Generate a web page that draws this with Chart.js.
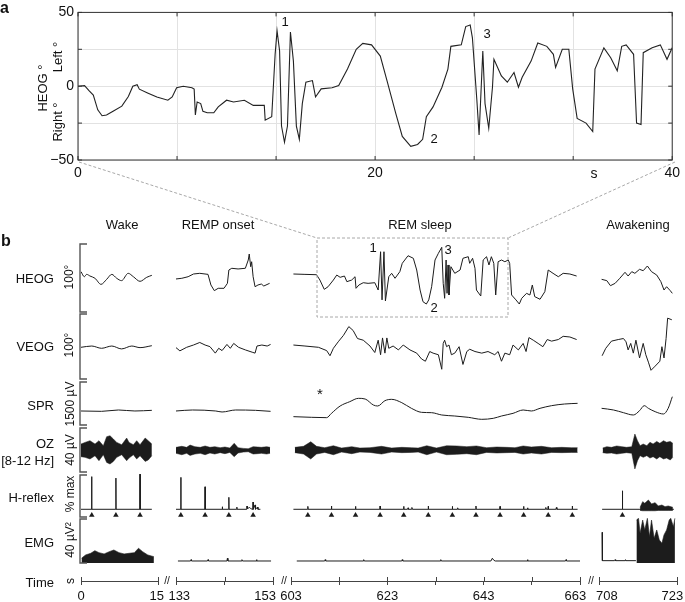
<!DOCTYPE html>
<html>
<head>
<meta charset="utf-8">
<script src="https://cdn.jsdelivr.net/npm/chart.js@4.4.0/dist/chart.umd.min.js"></script>
<style>
  html, body { margin: 0; padding: 0; background: #fff; }
  #page { position: relative; width: 685px; height: 602px; overflow: hidden;
          font-family: "Liberation Sans", Arial, Helvetica, sans-serif; color: #111; }
  #page canvas { position: absolute; }
  #page svg { position: absolute; left: 0; top: 0; }
  .lbl { position: absolute; white-space: nowrap; font-size: 13px; line-height: 1; }
</style>
</head>
<body>
<div id="page"></div>
<script>
// ---------- panel a : zoomed HEOG (40 s window) ----------
const heogA = [
  [0,0],[0.44,0.4],[0.74,-3],[1.03,-6],[1.33,-16],[1.62,-20],[1.92,-19.5],[2.36,-17],[2.95,-13.5],
  [3.39,-7],[3.69,0],[3.98,1],[4.13,-2],[4.72,-4.7],[5.31,-7.3],[6.05,-9.5],[6.34,-7.3],[6.64,-1],
  [7.08,0],[7.67,-1],[7.82,-2],[7.9,-19.5],[8.02,-10.7],[8.26,-11.8],[8.41,-17],[8.7,-18],[9.14,-18],
  [9.44,-14],[10.0,-9.5],[10.47,-10.7],[11.2,-9.5],[11.8,-13],[12.54,-13],[12.6,-23],[13.04,-20.7],
  [13.27,21.6],[13.4,37.5],[13.57,24],[13.7,-27],[13.9,-38],[14.1,-27],[14.3,36.7],[14.5,17],[14.7,-27],
  [14.9,-36],[15.1,-11.8],[15.34,2.7],[15.78,3.8],[15.99,-7.3],[16.37,-1.8],[17.1,-1],[17.55,0.4],
  [18.14,11.6],[18.73,25],[19.17,29],[19.76,28],[20.35,20.4],[20.8,3.8],[21.39,-18.4],[21.83,-34],
  [22.4,-40.7],[22.86,-39.5],[23.2,-36],[23.45,-20.7],[23.9,-14],[24.5,-0.7],[24.9,11.6],[25.1,27],
  [25.8,28],[26.1,40.4],[26.4,41.5],[26.55,32.7],[26.85,-9.5],[27.0,-33],[27.25,23.8],[27.4,-11.8],
  [27.65,-28.5],[27.9,-0.7],[28.0,18.2],[28.5,7],[28.9,2.7],[29.35,9.3],[29.65,-0.7],[29.9,6],
  [30.5,17],[30.95,29.3],[31.56,27],[32.0,21.6],[32.15,12.7],[32.6,25],[33.04,25],[33.3,-1.8],
  [33.6,-21.8],[34.2,-25],[34.65,-30.7],[34.8,11.6],[35.4,26],[35.86,19.3],[36.3,10.4],[36.6,27],
  [36.9,28],[37.4,21.6],[37.6,-25],[37.9,-26],[38.05,22.7],[38.65,26],[39.2,28],[39.65,18.2],[40,26]
];
const xTicksA = [0, 6.667, 13.333, 20, 26.667, 33.333, 40];
const xTickLabelsA = ['0', '', '', '20', '', '', '40'];
const yTicksA = [-50, -25, 0, 25, 50];
const yTickLabelsA = ['\u221250', '', '0', '', '50'];

// ---------- panel b : four recording segments ----------
const segMin = [0, 133, 603, 708];
const segMax = [15, 153, 663, 723];
const segTicks = [[0, 15], [133, 143, 153], [603, 613, 623, 633, 643, 653, 663], [708, 723]];
// thin/en/em spaces nudge the crowded end labels off each other, as in the original
const segTickLabels = [
  ['0', '15\u2009'],
  ['\u2002133', '', '153\u2003\u2009'],
  ['603', '', '623', '', '643', '', '663\u2002\u2009'],
  ['\u2003\u2009708', '723\u2002\u2009']
];

// HEOG (deg)
const heogWake = [[0,9.9],[0.65,2.6],[1.1,6],[1.75,3.6],[2.73,0.3],[3.9,-8.5],[5.0,-1.2],[6.0,6],[6.96,0.3],
  [7.9,-3.1],[9.2,7.5],[10.2,2.6],[11.5,-4.1],[12.8,1.7],[13.8,4.6]];
const heogRemp = [[133,-0.7],[134.2,0.3],[135.5,2.6],[136.6,6.5],[137.9,7.5],[139.6,6],[140.2,-9.4],[140.9,-17.6],
  [141.7,-14.2],[142.9,-14.2],[143.6,-7],[143.9,12.3],[144.5,14.8],[145.8,13.8],[147.3,14.8],[147.9,26.8],
  [148.1,35.5],[148.4,17.1],[148.6,24.3],[148.9,2.6],[149.3,-11.9],[149.9,-9.4],[150.6,-8],[151.1,-10.9],[152.3,-7]];
const heogRem = [[603.5,6.5],[605.9,6],[608.3,5.5],[609,-2.2],[609.9,-15.7],[610.7,-11.9],[611.8,-2.2],[612.5,5],
  [613.2,1.7],[614.1,3.6],[614.6,-4.6],[615.6,-2.2],[616.3,2.6],[616.5,-14.2],[617.1,-9.4],[618,-6.1],[619,-7],
  [620.4,-6.1],[621.1,-16.7],[621.6,38.8],[621.9,-31],[622.3,38.8],[622.6,-32.6],[623.3,2.6],[623.9,7.5],
  [624.6,0.3],[625.6,9.9],[626.1,22],[627.3,33],[628.4,29.3],[629.1,12.3],[629.8,-16.7],[630.4,-33.6],
  [631.1,-37],[631.6,-31],[632.2,-11.9],[632.9,26.8],[633.6,36.5],[634.3,45.2],[634.6,-7],[634.9,-28.7],
  [635.2,26.8],[635.4,-21.5],[635.6,19.6],[635.8,-23.9],[636.2,17.1],[637,7.5],[638.1,12.3],[638.7,29.3],
  [639.8,31.6],[640.1,22],[640.7,29.3],[641.2,14.8],[641.5,-16.7],[642.4,-25.4],[642.9,26.8],[643.6,31.6],
  [644.1,19.6],[644.6,31.6],[645.1,22],[645.5,-23.9],[646,24.3],[646.7,26.8],[647.4,24.3],[648.1,26.8],
  [648.4,22],[648.8,-23.9],[649.7,-31],[650.4,-37],[650.9,-28.7],[651.9,-21.5],[652.6,-23.9],[653.1,-9.4],
  [653.6,-26.3],[654.7,-30.1],[655.7,-19.1],[656.4,12.3],[657.4,7.5],[658.5,2.6],[659.5,7.5],[660.9,6.5],[662.3,3.6]];
const heogAwake = [[708.5,-1.2],[709.5,-3.1],[710.2,-10.4],[711.1,-7],[712,0.3],[713,9],[713.6,3.6],[714.3,9.9],
  [714.9,7.5],[715.8,13.3],[716.5,11.3],[717.3,18.1],[718.1,9.9],[719.1,5],[719.9,-4.6],[720.5,-16.7],
  [721,-11.9],[721.7,-17.6],[722.1,-21.5]];

// VEOG (deg)
const veogWake = [[0,-1.2],[2.1,0.7],[4,-2.7],[6,0.7],[7.9,-3.6],[9.9,0.7],[11.5,-1.7],[13.8,1.2]];
const veogRemp = [[133,-1.7],[133.8,-6.5],[135.2,-1.2],[136.6,2.2],[137.9,6],[139,2.2],[140,-0.2],[141.1,-9.9],
  [141.8,-2.7],[142.5,-6.1],[143.5,3.1],[144.2,-2.7],[144.9,4.6],[145.9,-1.2],[147.3,-5.1],[148.7,-8.5],
  [149.3,-9.9],[149.7,0.7],[150.7,2.2],[151.8,0.7],[152.5,3.1]];
const veogRem = [[603.5,2.2],[605.9,0.7],[608.7,-1.2],[610.4,-6.1],[611.1,-13.8],[611.8,-2.7],[612.8,7],
  [613.9,16.7],[615,29.7],[615.9,23.9],[616.8,11.9],[618,9.4],[619.4,0.7],[620.4,-9],[621.1,9.4],[621.6,-12.3],
  [622,12.8],[622.5,-9.9],[622.9,12.8],[623.3,-2.7],[624.2,0.7],[625.3,-5.1],[626.3,2.2],[627.7,-5.1],
  [629.1,-9.9],[630.1,-18.6],[630.9,-22],[631.8,-7.5],[632.5,-9.9],[633.6,-12.3],[634.3,-34],[634.6,4.6],
  [634.9,9.4],[635.3,-0.3],[635.8,2.2],[636.3,-12.3],[637,-9.9],[637.9,-0.3],[638.7,-26.8],[639.5,-7.5],
  [640.1,-4.1],[641.2,-7.5],[642.6,-9.9],[643.9,-7.5],[645.3,-12.3],[646,-7.5],[646.7,-22],[647.4,-9.9],
  [648.4,-12.3],[649.1,2.2],[650.2,-5.1],[651.2,4.6],[651.8,-7.5],[652.4,13.3],[653.3,9.4],[654.3,4.6],
  [655.3,-0.3],[656.2,10.4],[657.1,8],[658.5,10.4],[659.5,15.2],[660.9,14.2],[662.3,10.4]];
const veogAwake = [[708.6,-13.8],[709.3,-2.7],[710.4,8],[711.7,10.4],[712.7,11.9],[713.2,7],[713.6,-5.1],
  [714.1,4.6],[714.6,-9.9],[715.1,9.4],[715.8,-17.1],[716.5,4.6],[717,-12.3],[717.5,-23.4],[718,-35.5],
  [718.8,-29.3],[719.7,-22],[720.1,-0.3],[720.5,-17.1],[720.9,11.9],[721.2,42.3],[722,39.9]];

// SPR (uV)
const sprWake = [[0,511],[4,500],[7.3,543],[10.5,511],[13.8,532]];
const sprRemp = [[133,511],[136.4,543],[141.2,511],[142.5,479],[145.3,543],[149.4,532],[152.5,500]];
const sprRem = [[603.5,330],[607.3,309],[610.4,298],[611.4,436],[613.2,670],[615.2,808],[617,915],[618.4,893],
  [620.1,702],[621,670],[622.5,840],[623.9,883],[626,776],[628,596],[630.1,468],[632.2,457],[634.3,383],
  [637,351],[639.8,309],[642.6,245],[645,277],[646.7,351],[649.1,436],[651.2,543],[652.9,511],[654.7,596],
  [657.1,681],[659.8,734],[662.5,755]];
const sprAwake = [[708.5,596],[710.8,543],[712.7,457],[714.6,383],[715.8,521],[716.7,681],[717.5,596],
  [718.8,489],[720.4,415],[721.3,596],[722.1,967]];

// OZ alpha band (uV): upper / lower envelope
const ozWakeT = [0,0.78,1.75,2.73,3.5,4.35,5,5.65,6.3,6.96,7.93,8.9,9.36,10.2,10.85,11.5,12.5,13.1,13.8];
const ozWakeHi = [5.2,6.6,8.1,5.2,8.1,3.7,11.6,12.4,9.6,6.6,4.6,10.4,6.6,4.6,8.1,4.6,10.4,8.1,5.2];
const ozWakeLo = [-5.8,-6.4,-7.8,-5,-9.3,-4.1,-10.8,-12.2,-9.9,-6.4,-4.1,-9.3,-7,-4.1,-7.8,-5,-9.9,-8.7,-5];
const ozRempT = [133,134.2,135.2,135.9,136.9,138,139,140,141,142.1,143.1,144.1,145,145.8,146.9,147.9,148.9,149.8,150.6,151.7,152.4];
const ozRempHi = [2.3,3.2,2.3,4.3,2.9,2.3,3.5,2.3,2.9,2.0,2.6,1.7,5.8,2.0,1.4,1.1,2.9,2.6,2.3,2.9,2.3];
const ozRempLo = [-2.9,-4.1,-2.9,-4.7,-3.5,-2.9,-4.1,-2.6,-3.5,-2.3,-3.2,-2.1,-5.8,-2.6,-1.8,-1.5,-3.5,-3.2,-2.9,-3.5,-2.9];
const ozRemT = [603.8,605.6,607.1,608.3,610,611.8,613.5,615.6,617.3,619.4,621.8,623.9,626,628,629.4,631.2,633.2,
  635.3,637.4,639.5,641.5,643.6,645.7,647.8,649.5,651.2,652.9,655,657.1,659.2,661.2,662.5];
const ozRemHi = [2.3,3.2,7.2,3.2,2.0,3.7,1.7,2.9,1.7,2.0,3.2,1.7,2.3,2.0,1.7,3.7,1.7,3.7,3.5,2.9,3.5,2.0,2.6,2.3,
  2.0,3.5,2.6,3.2,2.0,2.3,2.0,2.0];
const ozRemLo = [-2.3,-3.5,-7.8,-3.5,-2.1,-4.1,-1.8,-3.2,-1.8,-2.1,-3.5,-1.8,-2.3,-2.1,-1.8,-4.1,-1.8,-4.1,-3.8,
  -3.2,-4.1,-2.1,-2.6,-2.3,-2.1,-3.5,-2.6,-3.5,-2.1,-2.3,-2.1,-2.1];
const ozAwakeT = [708.7,709.5,710.4,711.4,712.4,713.3,714.3,714.9,715.4,715.9,716.5,717.2,717.8,718.4,719.1,719.7,720.4,721,721.7,722.2];
const ozAwakeHi = [1.7,2.9,2.3,3.5,2.9,2.3,2.9,13.9,8.1,3.8,5.2,3.8,6.7,5.2,7.5,5.8,8.1,6.7,7.5,5.8];
const ozAwakeLo = [-2.3,-2.9,-2.6,-3.5,-2.9,-2.3,-2.9,-16.5,-9.3,-4.9,-6.4,-4.9,-7,-5.8,-7.8,-5.8,-7.8,-7,-8.7,-6.4];

// H-reflex (% max)
const hrWake = [[0,0],[2.05,0],[2.08,90],[2.11,0],[6.77,0],[6.8,86],[6.83,0],[11.47,0],[11.5,97],[11.53,0],[13.8,0]];
const hrRemp = [[133,0],[133.97,0],[134,88],[134.03,0],[138.97,0],[139,62],[139.03,0],[142.5,0],[142.55,7],
  [142.6,0],[143.87,0],[143.9,33],[143.93,0],[145.5,0],[145.55,6],[145.6,0],[147.6,0],[147.65,9],[147.7,2],
  [148.2,5],[148.5,1],[148.87,0],[148.9,20],[148.93,0],[149.3,12],[149.4,0],[149.8,6],[149.9,0],[150.4,0]];
const hrRem = [[603.5,0],[606.45,0],[606.5,8],[606.55,0],[611.35,0],[611.4,9],[611.45,0],[616.35,0],[616.4,8],
  [616.45,0],[621.45,0],[621.5,9],[621.55,0],[626.35,0],[626.4,8],[626.45,0],[627.2,0],[627.3,4],[627.4,0],
  [628.0,0],[628.1,5],[628.2,0],[631.45,0],[631.5,9],[631.55,0],[636.45,0],[636.5,8],[636.55,0],[637.5,0],
  [637.6,4],[637.7,0],[641.35,0],[641.4,9],[641.45,0],[646.35,0],[646.4,8],[646.45,0],[651.25,0],[651.3,8],
  [651.35,0],[652,0],[652.1,4],[652.2,0],[655.8,0],[655.9,5],[656,0],[656.35,0],[656.4,8],[656.45,0],
  [658,0],[658.1,5],[658.2,0],[661.35,0],[661.4,9],[661.45,0],[662.5,0]];
const hrAwake = [[708.6,0],[712.45,0],[712.5,51],[712.55,0],[722.4,0]];
const hrAwakeT = [715.9,716.4,716.8,717.5,718.1,718.8,719.4,720.1,720.7,721.3,722.2];
const hrAwakeHi = [5.4,21,16.5,25.6,14.6,18.2,9.1,11.8,7.2,9.1,5.4];
const hrAwakeLo = [-3,-4,-4,-4,-4,-4,-3,-3,-3,-3,-3];
// stimulus times (triangles)
const stimWake = [2.1, 6.8, 11.5];
const stimRemp = [134, 139, 143.9, 148.9];
const stimRem = [606.5, 611.4, 616.4, 621.5, 626.4, 631.5, 636.5, 641.4, 646.4, 651.3, 656.4, 661.4];
const stimAwake = [712.5];

// EMG (uV^2)
const emgWakeT = [0.1,0.9,1.9,2.7,3.5,4.5,5.5,6.4,7.4,8.4,9.4,10.4,11.2,12,13,14.2];
const emgWakeHi = [4.3,7.3,8.8,11.2,9.4,8.2,10.3,11.8,9.4,8.2,8.8,9.4,13.4,10.3,7.3,5.7];
const emgRemp = [[133.4,1.8],[136,1.8],[136.1,3],[136.2,1.8],[139.5,1.8],[139.6,3],[139.7,1.8],[143.5,1.8],
  [143.6,4.3],[143.7,1.8],[146.5,1.8],[146.6,3],[146.7,1.8],[149.5,1.8],[149.6,3],[149.7,1.8],[152.6,1.8]];
const emgRem = [[604.2,1.8],[610,1.8],[610.1,3],[610.2,1.8],[618,1.8],[618.1,3],[618.2,1.8],[626,1.8],[626.1,3],
  [626.2,1.8],[634,1.8],[634.1,3],[634.2,1.8],[644.5,1.8],[644.8,4.3],[645.1,2.5],[645.4,1.8],[652,1.8],
  [652.1,3],[652.2,1.8],[660,1.8],[660.1,3],[660.2,1.8],[663.3,1.8]];
const emgAwake = [[708.6,27.9],[708.65,2.1],[711,2.1],[711.1,3],[711.2,2.1],[713,2.1],[713.1,3],[713.2,2.1],[715.1,2.1]];
const emgAwakeT = [715.2,715.6,715.9,716.4,716.8,717.3,717.7,718.1,718.6,719.1,719.6,720.1,720.5,721,721.5,721.8,722.3,722.6];
const emgAwakeHi = [39,40.6,27,39,30,40.6,23.9,39,22.4,30,20.9,17.9,25.5,30,39,40.6,33,40.6];

// ---------- layout ----------
const INK = '#1c1c1c';
const rowIds = ['heog', 'veog', 'spr', 'oz', 'hr', 'emg'];
const rowMin = [-50, -50, 0, -20, -24, -16.4];
const rowMax = [50, 50, 1500, 20, 100, 40.9];
const rowPx = [69, 67, 47, 46, 45, 63];
const stimLevel = -16;
const segLeft = [81, 176, 291, 599];
const segRight = [158, 273, 580, 677];

Chart.defaults.font.family = '"Liberation Sans", Arial, Helvetica, sans-serif';
Chart.defaults.font.size = 13;
Chart.defaults.color = '#111';

const page = document.getElementById('page');
const pts = a => a.map(p => ({ x: p[0], y: p[1] }));
const zip = (t, v) => t.map((x, i) => ({ x, y: v[i] }));

function addCanvas(left, top, w, h) {
  const c = document.createElement('canvas');
  c.width = w; c.height = h;
  c.style.left = left + 'px'; c.style.top = top + 'px';
  c.style.width = w + 'px'; c.style.height = h + 'px';
  page.appendChild(c);
  return c;
}

// frame + inward ticks for panel a
const framePlugin = {
  id: 'frame',
  afterDraw(chart) {
    const { ctx, chartArea: a } = chart;
    const x = chart.scales.x, y = chart.scales.y;
    ctx.save();
    ctx.strokeStyle = '#333';
    ctx.lineWidth = 1;
    ctx.strokeRect(a.left, a.top, a.right - a.left, a.bottom - a.top);
    ctx.beginPath();
    x.ticks.forEach(t => {
      const px = x.getPixelForValue(t.value);
      ctx.moveTo(px, a.top); ctx.lineTo(px, a.top + 4);
      ctx.moveTo(px, a.bottom); ctx.lineTo(px, a.bottom - 4);
    });
    y.ticks.forEach(t => {
      const py = y.getPixelForValue(t.value);
      ctx.moveTo(a.left, py); ctx.lineTo(a.left + 4, py);
      ctx.moveTo(a.right, py); ctx.lineTo(a.right - 4, py);
    });
    ctx.stroke();
    ctx.restore();
  }
};

// time-axis ticks also poke above the axis line
const tickUpPlugin = {
  id: 'tickUp',
  afterDraw(chart) {
    const { ctx, chartArea: a } = chart;
    const x = chart.scales.x;
    ctx.save();
    ctx.strokeStyle = '#444';
    ctx.lineWidth = 1;
    ctx.beginPath();
    x.ticks.forEach(t => {
      const px = Math.round(x.getPixelForValue(t.value)) + 0.5;
      ctx.moveTo(px, a.bottom - 4); ctx.lineTo(px, a.bottom);
    });
    ctx.stroke();
    ctx.restore();
  }
};

new Chart(addCanvas(0, 0, 685, 185), {
  type: 'line',
  data: { datasets: [{ data: pts(heogA), borderColor: '#222', borderWidth: 1.1, pointRadius: 0, tension: 0 }] },
  options: {
    responsive: false, animation: false, events: [],
    layout: { padding: { left: 0, right: 10, top: 10, bottom: 5 } },
    plugins: { legend: { display: false }, tooltip: { enabled: false } },
    scales: {
      x: {
        type: 'linear', min: 0, max: 40,
        afterBuildTicks: ax => { ax.ticks = xTicksA.map(v => ({ value: v })); },
        afterFit: ax => { ax.height = 20; },
        ticks: { callback: (v, i) => xTickLabelsA[i], padding: 5, maxRotation: 0, autoSkip: false, font: { size: 14 } },
        grid: { color: '#e2e2e2', drawTicks: false },
        border: { display: false }
      },
      y: {
        type: 'linear', min: -50, max: 50,
        afterBuildTicks: ax => { ax.ticks = yTicksA.map(v => ({ value: v })); },
        afterFit: ax => { ax.width = 78; },
        ticks: { callback: (v, i) => yTickLabelsA[i], padding: 4, font: { size: 14 } },
        grid: { color: '#e2e2e2', drawTicks: false },
        border: { display: false }
      }
    }
  },
  plugins: [framePlugin]
});

// ---------- panel b charts ----------
const segHeog = [heogWake, heogRemp, heogRem, heogAwake];
const segVeog = [veogWake, veogRemp, veogRem, veogAwake];
const segSpr = [sprWake, sprRemp, sprRem, sprAwake];
const segOzT = [ozWakeT, ozRempT, ozRemT, ozAwakeT];
const segOzHi = [ozWakeHi, ozRempHi, ozRemHi, ozAwakeHi];
const segOzLo = [ozWakeLo, ozRempLo, ozRemLo, ozAwakeLo];
const segHr = [hrWake, hrRemp, hrRem, hrAwake];
const segStim = [stimWake, stimRemp, stimRem, stimAwake];
const segEmgLine = [null, emgRemp, emgRem, emgAwake];
const segEmgT = [emgWakeT, null, null, emgAwakeT];
const segEmgHi = [emgWakeHi, null, null, emgAwakeHi];

function line(data, axis, smooth, extra) {
  return Object.assign({
    data, yAxisID: axis, borderColor: INK, borderWidth: 1, pointRadius: 0,
    fill: false, tension: 0, cubicInterpolationMode: smooth ? 'monotone' : 'default'
  }, extra || {});
}

function segDatasets(k) {
  const ds = [];
  ds.push(line(pts(segHeog[k]), 'heog', k === 0));
  ds.push(line(pts(segVeog[k]), 'veog', k === 0));
  ds.push(line(pts(segSpr[k]), 'spr', true));
  ds.push(line(zip(segOzT[k], segOzHi[k]), 'oz', false, { borderWidth: 0.5 }));
  ds.push(line(zip(segOzT[k], segOzLo[k]), 'oz', false, { borderWidth: 0.5, fill: '-1', backgroundColor: INK }));
  ds.push(line(pts(segHr[k]), 'hr', false));
  if (k === 3) {
    ds.push(line(zip(hrAwakeT, hrAwakeHi), 'hr', false, { borderWidth: 0.6 }));
    ds.push(line(zip(hrAwakeT, hrAwakeLo), 'hr', false, { borderWidth: 0.6, fill: '-1', backgroundColor: INK }));
  }
  ds.push({
    data: segStim[k].map(t => ({ x: t, y: stimLevel })), yAxisID: 'hr', showLine: false,
    pointStyle: 'triangle', pointRadius: 3.2, pointBackgroundColor: INK, pointBorderWidth: 0
  });
  if (segEmgLine[k]) ds.push(line(pts(segEmgLine[k]), 'emg', false));
  if (segEmgT[k]) ds.push(line(zip(segEmgT[k], segEmgHi[k]), 'emg', false, { borderWidth: 0.6, fill: 'origin', backgroundColor: INK }));
  return ds;
}

segMin.forEach((mn, k) => {
  const pad = 15;
  const canvas = addCanvas(segLeft[k] - pad, 234, segRight[k] - segLeft[k] + 2 * pad, 368);
  const scales = {
    x: {
      type: 'linear', min: mn, max: segMax[k],
      afterBuildTicks: ax => { ax.ticks = segTicks[k].map(v => ({ value: v })); },
      afterFit: ax => { ax.height = 21; ax.paddingLeft = 0; ax.paddingRight = 0; },
      ticks: { callback: (v, i) => segTickLabels[k][i], padding: 4, maxRotation: 0, autoSkip: false },
      grid: { drawOnChartArea: false, drawTicks: true, tickLength: 4, color: '#444' },
      border: { display: true, color: '#444', width: 1 }
    }
  };
  rowIds.forEach((id, r) => {
    scales[id] = {
      type: 'linear', position: 'left', stack: 'rows', stackWeight: rowPx[r],
      weight: rowIds.length - r, min: rowMin[r], max: rowMax[r], display: false
    };
  });
  new Chart(canvas, {
    type: 'line',
    data: { datasets: segDatasets(k) },
    options: {
      responsive: false, animation: false, events: [],
      layout: { padding: { left: pad, right: pad, top: 10, bottom: 0 } },
      plugins: { legend: { display: false }, tooltip: { enabled: false } },
      scales
    },
    plugins: [tickUpPlugin]
  });
});

// ---------- decorations: zoom lines, dashed window, scale brackets ----------
const brackets = [[244, 312], [314, 379], [382, 425], [428, 472], [475, 517], [519, 563]];
let svg = '<svg width="685" height="602" xmlns="http://www.w3.org/2000/svg">';
svg += '<g stroke="#a8a8a8" stroke-width="1" stroke-dasharray="3,2" fill="none">';
svg += '<line x1="79" y1="162" x2="317" y2="238"/><line x1="675" y1="162" x2="508" y2="238"/>';
svg += '<rect x="317" y="238" width="191" height="79"/></g>';
svg += '<g stroke="#555" stroke-width="1.4" fill="none">';
brackets.forEach(b => { svg += `<path d="M87,${b[0]} H80 V${b[1]} H87"/>`; });
svg += '</g></svg>';
page.insertAdjacentHTML('beforeend', svg);

// ---------- text ----------
// [text, x, y, anchor, rotate, size, bold]
const texts = [
  ['a', 0, 8, 'l', 0, 16, true],
  ['b', 1, 241, 'l', 0, 16, true],
  ['HEOG \u00b0', 42, 88, 'c', 1, 13],
  ['Left \u00b0', 57, 57, 'c', 1, 13],
  ['Right \u00b0', 57, 122, 'c', 1, 13],
  ['s', 594, 173, 'c', 0, 14],
  ['1', 285, 21, 'c', 0, 13], ['2', 434, 138, 'c', 0, 13], ['3', 487, 33, 'c', 0, 13],
  ['Wake', 122, 224, 'c', 0, 13], ['REMP onset', 218, 224, 'c', 0, 13],
  ['REM sleep', 420, 224, 'c', 0, 13], ['Awakening', 638, 224, 'c', 0, 13],
  ['HEOG', 54, 278, 'r', 0, 13], ['VEOG', 54, 346, 'r', 0, 13], ['SPR', 54, 405, 'r', 0, 13],
  ['OZ', 54, 443, 'r', 0, 13], ['[8-12 Hz]', 54, 460, 'r', 0, 13], ['H-reflex', 54, 497, 'r', 0, 13],
  ['EMG', 54, 542, 'r', 0, 13], ['Time', 54, 582, 'r', 0, 13],
  ['100\u00b0', 69, 277, 'c', 1, 12], ['100\u00b0', 69, 345, 'c', 1, 12], ['1500 \u00b5V', 70, 404, 'c', 1, 12],
  ['40 \u00b5V', 70, 450, 'c', 1, 12], ['% max', 70, 494, 'c', 1, 12], ['40 \u00b5V\u00b2', 70, 540, 'c', 1, 12],
  ['s', 70, 581, 'c', 1, 12],
  ['1', 373, 247, 'c', 0, 13], ['2', 434, 307, 'c', 0, 13], ['3', 448, 249, 'c', 0, 13], ['*', 320, 393, 'c', 0, 15],
  ['//', 167, 581, 'c', 0, 10], ['//', 284, 581, 'c', 0, 10], ['//', 591, 581, 'c', 0, 10]
];
texts.forEach(([t, x, y, anchor, rot, size, bold]) => {
  const d = document.createElement('div');
  d.className = 'lbl';
  d.textContent = t;
  d.style.left = x + 'px';
  d.style.top = y + 'px';
  d.style.fontSize = size + 'px';
  if (bold) d.style.fontWeight = 'bold';
  const tx = anchor === 'c' ? '-50%' : anchor === 'r' ? '-100%' : '0';
  d.style.transform = `translate(${tx},-50%)` + (rot ? ' rotate(-90deg)' : '');
  page.appendChild(d);
});
</script>
</body>
</html>
